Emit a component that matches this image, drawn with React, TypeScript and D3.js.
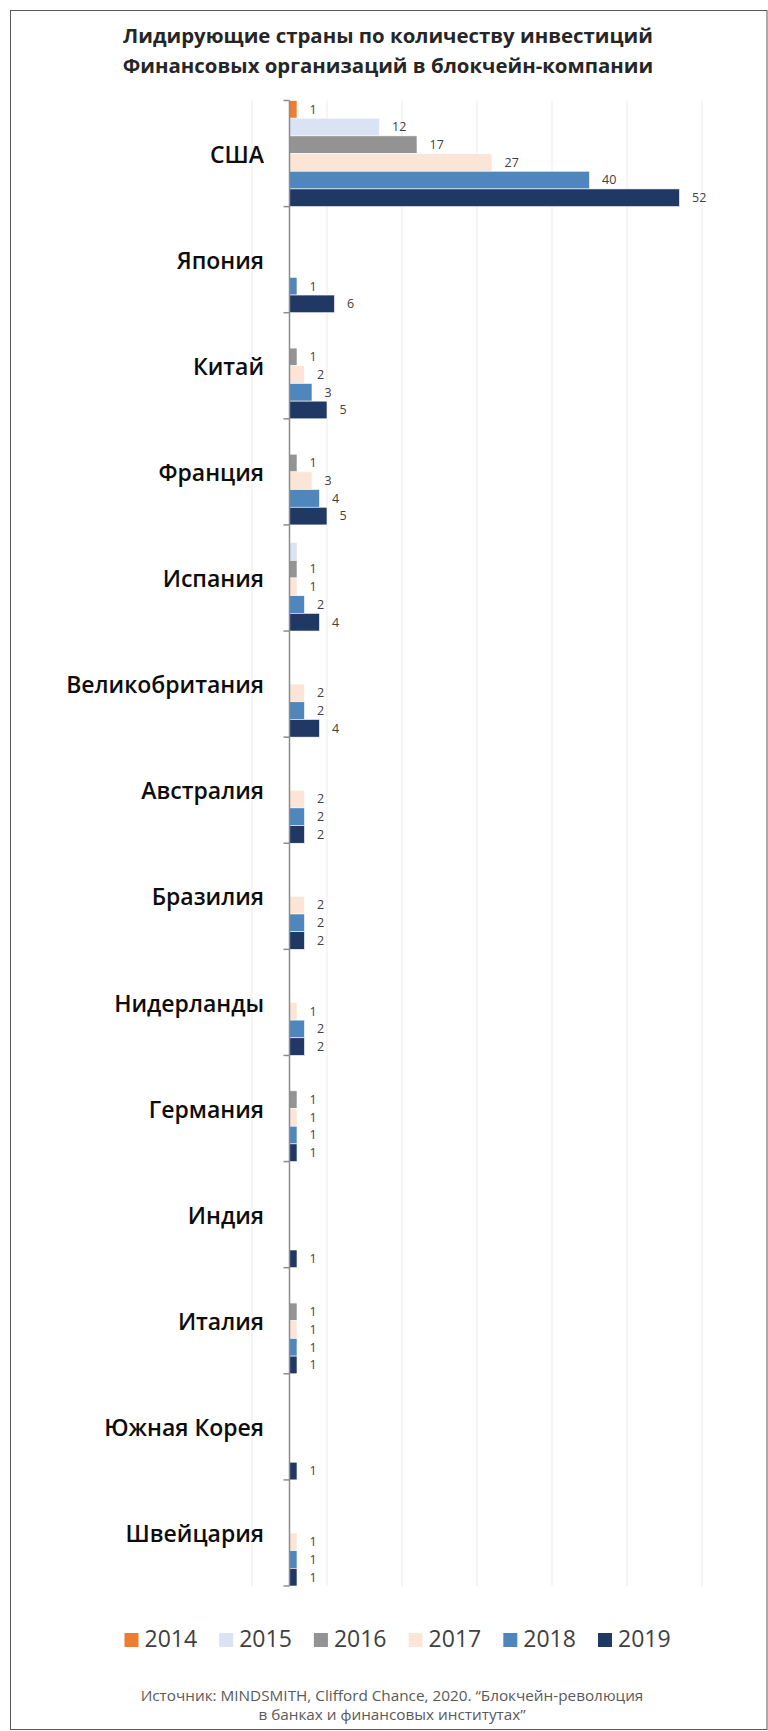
import React from 'react';
import * as d3 from 'd3';

const countries = [
  'США', 'Япония', 'Китай', 'Франция', 'Испания', 'Великобритания', 'Австралия',
  'Бразилия', 'Нидерланды', 'Германия', 'Индия', 'Италия', 'Южная Корея', 'Швейцария',
];
const years = ['2014', '2015', '2016', '2017', '2018', '2019'];

const v2014 = [1, 0, 0, 0, 0, 0, 0, 0, 0, 0, 0, 0, 0, 0];
const v2015 = [12, 0, 0, 0, 1, 0, 0, 0, 0, 0, 0, 0, 0, 0];
const v2016 = [17, 0, 1, 1, 1, 0, 0, 0, 0, 1, 0, 1, 0, 0];
const v2017 = [27, 0, 2, 3, 1, 2, 2, 2, 1, 1, 0, 1, 0, 1];
const v2018 = [40, 1, 3, 4, 2, 2, 2, 2, 2, 1, 0, 1, 0, 1];
const v2019 = [52, 6, 5, 5, 4, 4, 2, 2, 2, 1, 1, 1, 1, 1];

// the source has no label on this bar
const noLabel = ['Испания-2015'];

const gridTicks = [-5, 5, 15, 25, 35, 45, 55];

const colors = ['#ed7d31', '#dae3f3', '#939393', '#fbe5d6', '#4f87bc', '#203864'];

const title = [
  'Лидирующие страны по количеству инвестиций',
  'Финансовых организаций в блокчейн-компании',
];
const source = [
  'Источник: MINDSMITH, Clifford Chance, 2020. “Блокчейн-революция',
  'в банках и финансовых институтах”',
];

const font = '"Open Sans", "Noto Sans", sans-serif';

export default function App() {
  const W = 768;
  const H = 1731;
  const series = [v2014, v2015, v2016, v2017, v2018, v2019];

  const x = d3.scaleLinear().domain([-5, 55]).range([252, 702]);
  const y = d3.scaleBand().domain(countries).range([100.5, 1586]).padding(0);
  const yInner = d3.scaleBand().domain(years).range([0, y.bandwidth()]).padding(0);
  const color = d3.scaleOrdinal<string, string>().domain(years).range(colors);

  const bars: { c: string; yr: string; v: number }[] = [];
  countries.forEach((c, i) => {
    years.forEach((yr, j) => {
      const v = series[j][i];
      if (v > 0) bars.push({ c, yr, v });
    });
  });

  const x0 = x(0);
  const [yTop, yBot] = y.range();
  const bounds = countries.map((c) => y(c) as number).concat([yBot]);

  const legendX = d3.scalePoint().domain(years).range([124.5, 124.5 + 94.7 * 5]);

  return (
    <svg width={W} height={H} style={{ position: 'absolute', left: 0, top: 0, background: '#fff' }}>
      <rect x={10.5} y={10.5} width={756.5} height={1719} fill="#fff" stroke="#595959" strokeWidth={1} />

      {title.map((t, i) => (
        <text key={t} x={388} y={43 + i * 30} textAnchor="middle" fontFamily={font}
          fontWeight={700} fontSize={20.4} fill="#262626">{t}</text>
      ))}

      {/* gridlines */}
      {gridTicks.map((t) => (
        <line key={t} x1={x(t)} x2={x(t)} y1={yTop} y2={yBot} stroke="#ebebeb" strokeWidth={1} />
      ))}

      {/* bars */}
      {bars.map((d) => (
        <rect key={d.c + d.yr} x={x0} y={(y(d.c) as number) + (yInner(d.yr) as number)}
          width={x(d.v) - x0} height={yInner.bandwidth()} fill={color(d.yr)}
          stroke="#fff" strokeWidth={0.6} />
      ))}

      {/* value labels */}
      {bars.filter((d) => !noLabel.includes(d.c + '-' + d.yr)).map((d) => (
        <text key={'l' + d.c + d.yr} x={x(d.v) + 12.5}
          y={(y(d.c) as number) + (yInner(d.yr) as number) + yInner.bandwidth() / 2 + 1}
          dominantBaseline="middle" fontFamily={font} fontSize={12.5} fill="#404040">{d.v}</text>
      ))}

      {/* category axis */}
      <line x1={x0} x2={x0} y1={yTop} y2={yBot} stroke="#8c8c8c" strokeWidth={1.5} />
      {bounds.map((b, i) => (
        <line key={i} x1={x0 - 6} x2={x0} y1={b} y2={b} stroke="#8c8c8c" strokeWidth={1.5} />
      ))}
      {countries.map((c) => (
        <text key={c} x={264} y={(y(c) as number) + y.bandwidth() / 2 + 3} textAnchor="end"
          dominantBaseline="middle" fontFamily={font} fontWeight={600} fontSize={23}
          fill="#0d0d0d">{c}</text>
      ))}

      {/* legend */}
      {years.map((yr) => (
        <g key={yr} transform={`translate(${legendX(yr)},1633)`}>
          <rect width={14} height={14} fill={color(yr)} />
          <text x={20} y={14} fontFamily={font} fontSize={23} fill="#404040">{yr}</text>
        </g>
      ))}

      {source.map((t, i) => (
        <text key={t} x={392} y={1701 + i * 19} textAnchor="middle" fontFamily={font}
          fontSize={15.3} fill="#595959">{t}</text>
      ))}
    </svg>
  );
}
